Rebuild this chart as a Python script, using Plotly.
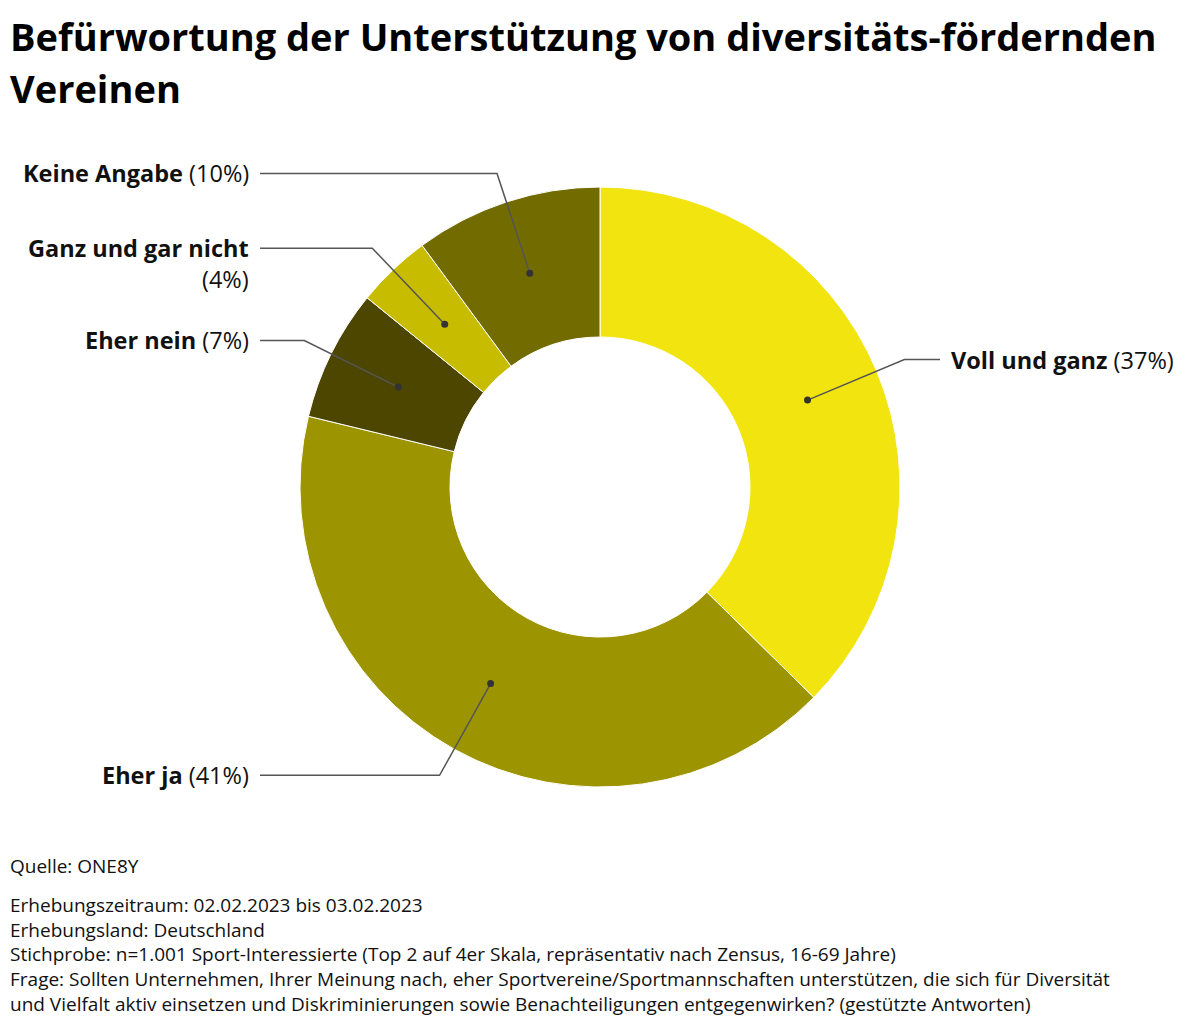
import math
import plotly.graph_objects as go

# data
categories = ["Voll und ganz", "Eher ja", "Eher nein", "Ganz und gar nicht", "Keine Angabe"]
shares = [37, 41, 7, 4, 10]
colors = ["#F2E40F", "#9C9400", "#4C4600", "#C8BC00", "#726C00"]
label_texts = [
    "<b>Voll und ganz</b> (37%)",
    "<b>Eher ja</b> (41%)",
    "<b>Eher nein</b> (7%)",
    "<b>Ganz und gar nicht</b><br>(4%)",
    "<b>Keine Angabe</b> (10%)",
]

title_lines = ["Befürwortung der Unterstützung von diversitäts-fördernden", "Vereinen"]
source = "Quelle: ONE8Y"
note_lines = [
    "Erhebungszeitraum: 02.02.2023 bis 03.02.2023",
    "Erhebungsland: Deutschland",
    "Stichprobe: n=1.001 Sport-Interessierte (Top 2 auf 4er Skala, repräsentativ nach Zensus, 16-69 Jahre)",
    "Frage: Sollten Unternehmen, Ihrer Meinung nach, eher Sportvereine/Sportmannschaften unterstützen, die sich für Diversität",
    "und Vielfalt aktiv einsetzen und Diskriminierungen sowie Benachteiligungen entgegenwirken? (gestützte Antworten)",
]

OFF = 8  # page body margin
W, H = 1192, 1016
FONT = "Open Sans"
cx, cy, R = 600, 487, 300  # donut centre / radius in page pixels
hole = 0.5

fig = go.Figure()
fig.add_trace(go.Pie(
    labels=categories, values=shares, sort=False, direction="clockwise", rotation=0,
    hole=hole, textinfo="none", hoverinfo="label+percent",
    marker=dict(colors=colors, line=dict(color="white", width=1)),
    domain=dict(x=[(cx - R - OFF) / W, (cx + R - OFF) / W],
                y=[1 - (cy + R - OFF) / H, 1 - (cy - R - OFF) / H]),
    showlegend=False,
))

# leader lines: dot in the middle of the ring, elbow at 1.1 R, then horizontal
total = sum(shares)
cum = 0
annotations = []
shapes = []
for cat, v, txt in zip(categories, shares, label_texts):
    mid = (cum + v / 2) / total * 2 * math.pi
    cum += v
    rm = R * (1 + hole) / 2
    dx, dy = math.sin(mid), -math.cos(mid)
    px_, py_ = cx + rm * dx, cy + rm * dy
    ex, ey = cx + 1.1 * R * dx, cy + 1.1 * R * dy
    right = dx > 0
    endx = 940 if right else 260
    shapes.append(dict(type="path", xref="x", yref="y", layer="above",
                       path=f"M{px_},{py_} L{ex},{ey} L{endx},{ey}",
                       line=dict(color="#555555", width=1.5)))
    shapes.append(dict(type="circle", xref="x", yref="y", layer="above",
                       x0=px_ - 3.5, x1=px_ + 3.5, y0=py_ - 3.5, y1=py_ + 3.5,
                       fillcolor="#333333", line=dict(width=0)))
    nlines = txt.count("<br>") + 1
    annotations.append(dict(
        x=endx + (9 if right else -9), y=ey, xref="x", yref="y",
        xanchor="left" if right else "right", yanchor="middle",
        yshift=-(nlines - 1) * 15.5, text=txt, showarrow=False, align="left" if right else "right",
        font=dict(family=FONT, size=23.5, color="#111111"),
    ))

for i, line in enumerate(title_lines):
    annotations.append(dict(x=OFF, y=OFF, xref="x", yref="y", xanchor="left", yanchor="top",
                            yshift=-i * 52, text="<b>" + line + "</b>", showarrow=False,
                            font=dict(family=FONT, size=38, color="#000000")))

annotations.append(dict(x=OFF, y=866, xref="x", yref="y", xanchor="left", yanchor="middle",
                        text=source, showarrow=False,
                        font=dict(family=FONT, size=19, color="#111111")))
annotations.append(dict(x=OFF, y=890, xref="x", yref="y", xanchor="left", yanchor="top",
                        text="<br>".join(note_lines), showarrow=False, align="left",
                        font=dict(family=FONT, size=19, color="#111111")))

fig.update_layout(
    width=W, height=H, margin=dict(l=0, r=0, t=0, b=0),
    paper_bgcolor="white", plot_bgcolor="white",
    xaxis=dict(range=[OFF, W + OFF], visible=False, fixedrange=True),
    yaxis=dict(range=[H + OFF, OFF], visible=False, fixedrange=True),
    annotations=annotations, shapes=shapes,
)

fig.write_html("out.html")
